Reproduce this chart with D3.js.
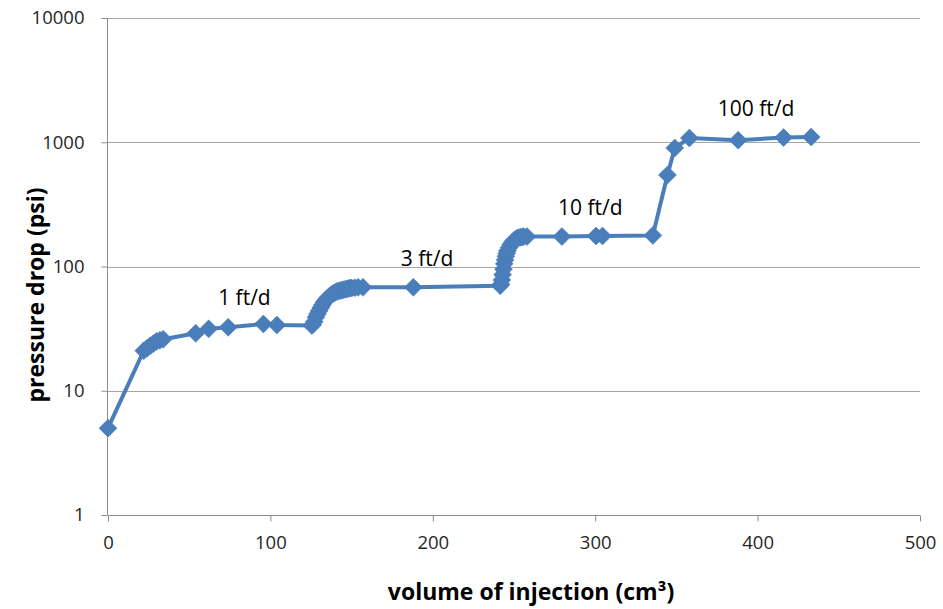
<!DOCTYPE html>
<html>
<head>
<meta charset="utf-8">
<script src="https://cdn.jsdelivr.net/npm/d3@7/dist/d3.min.js"></script>
<style>
  html, body { margin: 0; padding: 0; background: #fff; }
  svg { display: block; font-family: "Open Sans", "DejaVu Sans", sans-serif; }
</style>
</head>
<body>
<svg id="chart" width="943" height="609"></svg>
<script>
// Injected volume (cm³) at each reading
const volume = [
  0,
  22, 24, 26, 28, 30, 32, 34,
  54, 62, 74, 95.7, 104, 125.5,
  126, 127, 128, 129, 130, 131, 132, 133, 134, 135, 136, 137, 138, 139, 140,
  141, 142, 143, 144, 145, 146, 147, 148, 149, 150, 152, 154, 157,
  188, 241.5,
  242, 242.5, 243, 243.5, 244, 244.5, 245, 245.5, 246, 247, 248, 249, 250,
  251, 252, 253, 254, 255, 256, 258,
  279.5, 300.5, 304.5, 335.5,
  344.5, 349, 358, 388, 416, 433
];

// Pressure drop (psi) at each reading
const pressure = [
  5,
  21, 22, 23, 24, 25, 25.5, 26,
  29, 31.5, 32.4, 34.5, 33.8, 33.5,
  34, 36, 39, 41.5, 44, 46.5, 49, 51.5, 53.5, 55.5, 57, 58.5, 60, 61, 62,
  63, 63.5, 64, 64.5, 65, 65.5, 66, 66.5, 67, 67, 67.5, 68, 68,
  68, 70,
  72, 78, 86, 95, 105, 113, 121, 128, 134, 142, 150, 157, 162,
  166, 169, 171, 172, 173, 174, 174,
  174, 176, 176, 178,
  545, 900, 1080, 1040, 1090, 1100
];

// Flow-rate stage labels, anchored in data coordinates
const stageLabels = ["1 ft/d", "3 ft/d", "10 ft/d", "100 ft/d"];
const stageX = [84, 196.5, 297, 399];
const stageY = [49, 101, 260, 1620];

const xTicks = [0, 100, 200, 300, 400, 500];
const yTicks = [1, 10, 100, 1000, 10000];

const xTitle = "volume of injection (cm³)";
const yTitle = "pressure drop (psi)";

const svg = d3.select("#chart");
const plotLeft = 108, plotRight = 920, plotTop = 18, plotBottom = 515;

const x = d3.scaleLinear().domain([0, 500]).range([plotLeft, plotRight]);
const y = d3.scaleLog().domain([1, 10000]).range([plotBottom, plotTop]);

const gridColor = "#a6a6a6";
const axisColor = "#8c8c8c";
const blue = "#4a7ebb";

// Horizontal gridlines at each decade
svg.append("g")
  .selectAll("line")
  .data(yTicks.slice(1))
  .join("line")
  .attr("x1", plotLeft).attr("x2", plotRight)
  .attr("y1", d => Math.round(y(d)) + 0.5).attr("y2", d => Math.round(y(d)) + 0.5)
  .attr("stroke", gridColor).attr("stroke-width", 1);

// Y axis
const yAxis = d3.axisLeft(y).tickValues(yTicks).tickFormat(d3.format("d")).tickSize(6).tickPadding(17);
const gy = svg.append("g").attr("transform", `translate(${plotLeft - 0.5},0)`).call(yAxis);
gy.selectAll("path, line").attr("stroke", axisColor);
gy.select(".domain").attr("d", `M0,${plotTop}V${plotBottom}`);
gy.selectAll("text").attr("font-size", "18.5px").attr("fill", "#262626")
  .attr("font-family", "'Open Sans', sans-serif");

// X axis
const xAxis = d3.axisBottom(x).tickValues(xTicks).tickFormat(d3.format("d")).tickSize(6).tickPadding(14);
const gx = svg.append("g").attr("transform", `translate(0,${plotBottom + 0.5})`).call(xAxis);
gx.selectAll("path, line").attr("stroke", axisColor);
gx.select(".domain").attr("d", `M${plotLeft},0H${plotRight}`);
gx.selectAll("text").attr("font-size", "18.5px").attr("fill", "#262626")
  .attr("font-family", "'Open Sans', sans-serif");

// Data series
const pts = volume.map((v, i) => [v, pressure[i]]);
const line = d3.line().x(d => x(d[0])).y(d => y(d[1]));

svg.append("path")
  .datum(pts)
  .attr("d", line)
  .attr("fill", "none")
  .attr("stroke", blue)
  .attr("stroke-width", 4)
  .attr("stroke-linejoin", "round");

const r = 9;
svg.append("g")
  .selectAll("path")
  .data(pts)
  .join("path")
  .attr("transform", d => `translate(${x(d[0])},${y(d[1])})`)
  .attr("d", `M0,${-r}L${r},0L0,${r}L${-r},0Z`)
  .attr("fill", blue)
  .attr("stroke", blue)
  .attr("stroke-width", 0.5);

// Stage annotations
svg.append("g")
  .selectAll("text")
  .data(stageLabels)
  .join("text")
  .attr("x", (d, i) => x(stageX[i]))
  .attr("y", (d, i) => y(stageY[i]))
  .attr("text-anchor", "middle")
  .attr("font-size", "21px")
  .attr("fill", "#000")
  .text(d => d);

// Axis titles
svg.append("text")
  .attr("x", 531).attr("y", 600)
  .attr("text-anchor", "middle")
  .attr("font-size", "23px").attr("font-weight", "bold")
  .attr("fill", "#000")
  .text(xTitle);

svg.append("text")
  .attr("transform", "translate(44,295) rotate(-90)")
  .attr("text-anchor", "middle")
  .attr("font-size", "23px").attr("font-weight", "bold")
  .attr("fill", "#000")
  .text(yTitle);
</script>
</body>
</html>
